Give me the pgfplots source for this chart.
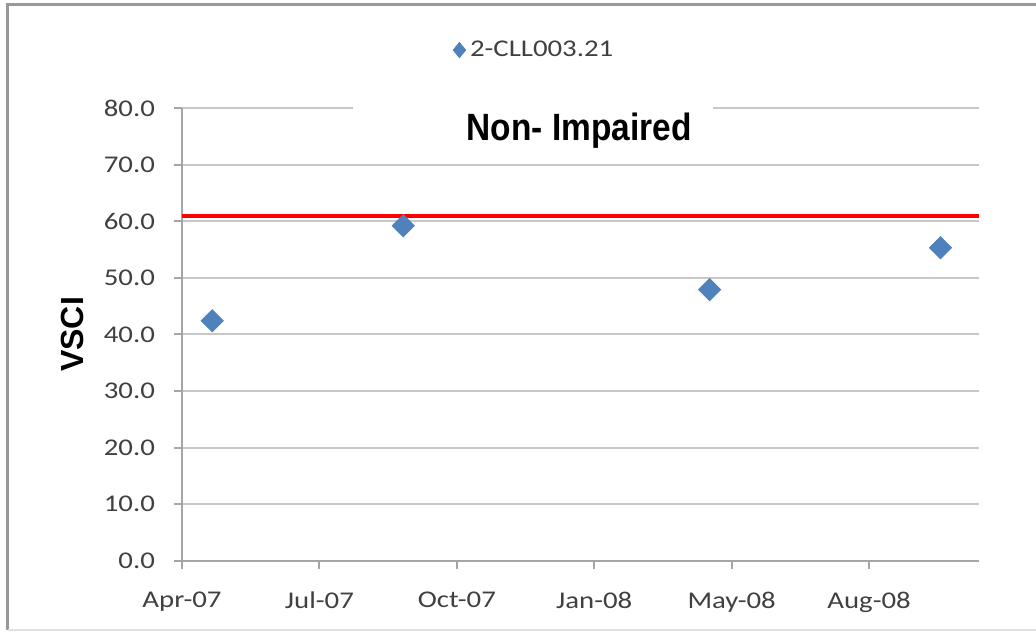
\documentclass[border=0pt]{standalone}
\usepackage{fontspec}
\setmainfont{Carlito}[FakeStretch=1.2]
\newfontfamily\titlefont{Liberation Sans}[FakeStretch=0.88]
\newfontfamily\labelfont{Liberation Sans}
\usepackage{pgfplots}
\pgfplotsset{compat=1.18}
\definecolor{exblue}{RGB}{79,129,189}
\begin{document}
\begin{tikzpicture}
\begin{axis}[name=ax, scale only axis, width=398.5pt, height=226.35pt,
 xmin=0, xmax=5.8, ymin=0, ymax=80,
 axis lines*=left, axis line style={draw=black!35, line width=1pt},
 xtick={0,1,2,3,4,5}, xticklabels={Apr-07,Jul-07,Oct-07,Jan-08,May-08,Aug-08},
 ytick={0,10,20,30,40,50,60,70,80},
 yticklabels={0.0,10.0,20.0,30.0,40.0,50.0,60.0,70.0,80.0},
 ymajorgrids, grid style={draw=black!22, line width=1pt},
 tick align=outside, major tick length=4pt, tick style={draw=black!35, line width=1pt},
 ticklabel style={font=\fontsize{12}{14}\selectfont, text=black!75},
 yticklabel style={xshift=-6pt},
 xticklabel style={yshift=-8pt},
 ylabel={\labelfont\bfseries\fontsize{16}{19}\selectfont VSCI},
 ylabel style={at={(axis description cs:-0.1368,0.5)}, anchor=center},
 clip=false,
 legend style={draw=none, fill=none, font=\fontsize{12}{14}\selectfont, text=black!75,
   at={(axis description cs:0.443,1.128)}, anchor=center},
 legend image code/.code={\fill[exblue] (0.12cm,3.8pt) -- (0.12cm+3.1pt,0pt) -- (0.12cm,-3.8pt) -- (0.12cm-3.1pt,0pt) -- cycle;},
]
\addplot[red, line width=2pt, forget plot] coordinates {(0,61) (5.8,61)};
\addplot[only marks, mark=square*, mark size=3.9pt, mark options={rotate=45, fill=exblue, draw=exblue}] coordinates {(0.22,42.4) (1.61,59.2) (3.84,47.9) (5.52,55.3)};
\addlegendentry{2-CLL003.21}
\fill[white] (axis cs:1.245,72.6) rectangle (axis cs:3.867,82.3);
\node[font=\titlefont\bfseries\fontsize{19}{22}\selectfont, anchor=base] at (axis cs:2.89,74.2) {Non- Impaired};
\end{axis}
\draw[black!40, line width=1.5pt] ([shift={(-87pt,-34.65pt)}]ax.south west) -- ([shift={(-87pt,277.85pt)}]ax.south west) -- ([shift={(427pt,277.85pt)}]ax.south west);
\draw[black!12, line width=1pt] ([shift={(-87pt,-34.65pt)}]ax.south west) -- ([shift={(427pt,-34.65pt)}]ax.south west);
\pgfresetboundingbox
\path[use as bounding box] ([shift={(-91pt,-35.65pt)}]ax.south west) rectangle ([shift={(427pt,280.35pt)}]ax.south west);
\end{tikzpicture}
\end{document}
